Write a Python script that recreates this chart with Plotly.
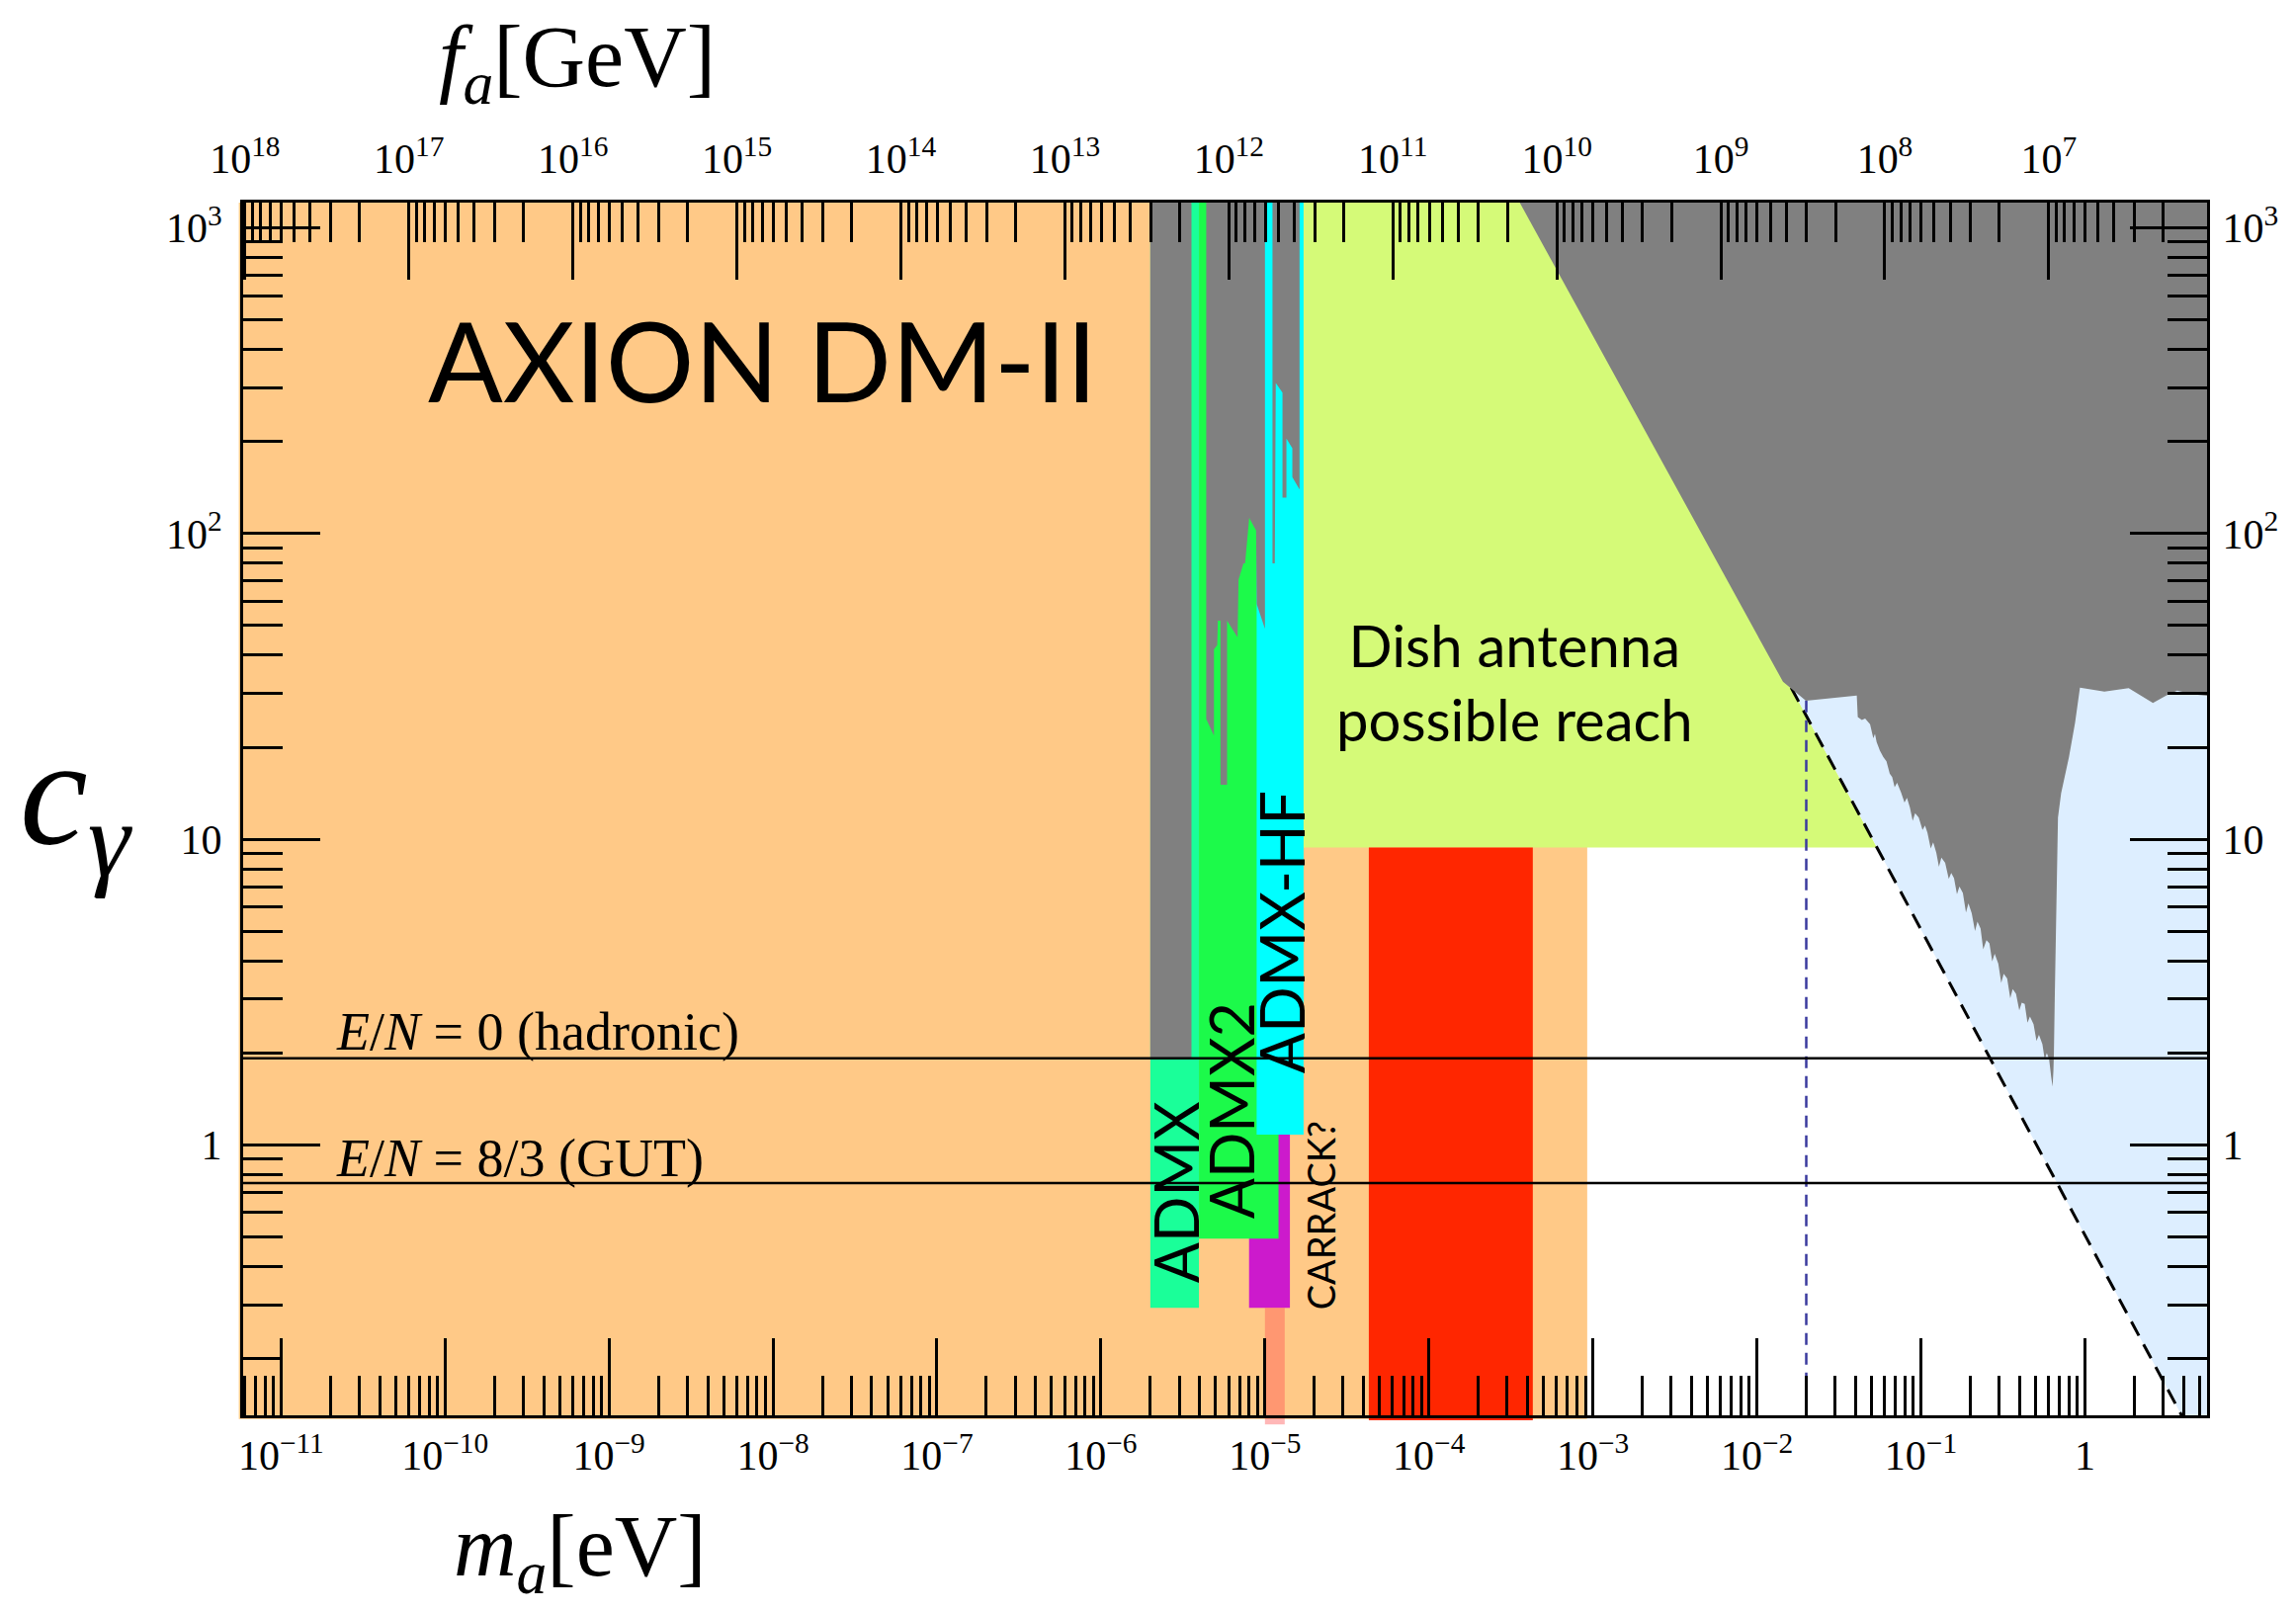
import math
import plotly.graph_objects as go

# ---------------- axis extents (log10 of m_a [eV] and of c_gamma) ----------------
LOG_M_MIN, LOG_M_MAX = -11.231, 0.745
LOG_C_MIN, LOG_C_MAX = -0.885, 3.083
LOG_FA_MA = 6.78            # log10(f_a * m_a / (GeV eV))
C_CEIL, C_FLOOR = 3000.0, 0.05

# ---------------- reference couplings ----------------
cgamma_hadronic = 1.92      # E/N = 0
cgamma_gut = 0.75           # E/N = 8/3

# ---------------- haloscope bands: mass interval [eV], lowest c_gamma ----------------
admx_m = [2.0e-6, 3.96e-6]
admx_c = 0.293
admx2_m = [3.96e-6, 1.21e-5]
admx2_c = 0.493
admxhf_m = [8.9e-6, 1.72e-5]
admxhf_c = 1.08
carrack_m = [8.0e-6, 1.42e-5]
carrack_c = [0.293, 1.08]
carrack_core_m = [1.0e-5, 1.32e-5]
carrack_core_c = 0.293
madmax_m = [4.3e-5, 4.3e-4]
madmax_c = 9.4
dm_band_m_max = 9.2e-4       # upper mass of the orange dark-matter band
dish_m_min = 1.72e-5
dish_c_min = 9.4
reach_const = 0.507          # c_gamma * m_a along the dashed reach line
reach_m = [3.2e-4, 4.6]
eband_m = 0.020              # blue dashed marker

# ---------------- haloscope exclusions (log10 m, log10 c) ----------------
admx_excl_logm = [-5.699, -5.448, -5.448, -5.699]
admx_excl_logc = [3.3, 3.3, 0.283, 0.283]

admx2_excl_logm = [-5.358, -5.358, -5.311, -5.311, -5.291, -5.287, -5.271, -5.271, -5.231,
                   -5.231, -5.167, -5.161, -5.131, -5.121, -5.096, -5.054, -5.050, -5.000, -5.000]
admx2_excl_logc = [3.3, 1.393, 1.339, 1.621, 1.635, 1.715, 1.715, 1.178, 1.178,
                   1.715, 1.661, 1.849, 1.903, 1.903, 2.051, 2.010, 1.769, 1.688, 3.3]

admxhf_excl_logm = [-4.954, -4.954, -4.940, -4.934, -4.893, -4.893, -4.869, -4.869,
                    -4.833, -4.833, -4.789, -4.789]
admxhf_excl_logc = [3.3, 1.903, 1.903, 2.493, 2.461, 2.118, 2.118, 2.311,
                    2.279, 2.185, 2.144, 3.3]

# ---------------- helioscope / telescope exclusion (log10 m, log10 c) ----------------
helio_logm = [-3.566, -1.841, -1.701, -1.391, -1.385, -1.36, -1.34, -1.31, -1.29, -1.28, -1.27,
              -1.25, -1.229, -1.21, -1.19, -1.175, -1.16, -1.145, -1.121, -1.10, -1.085, -1.067,
              -1.05, -1.035, -1.013, -0.99, -0.975, -0.960, -0.94, -0.925, -0.906, -0.89, -0.875,
              -0.852, -0.83, -0.815, -0.798, -0.78, -0.765, -0.744, -0.725, -0.71, -0.690, -0.67,
              -0.655, -0.636, -0.62, -0.60, -0.582, -0.565, -0.55, -0.528, -0.51, -0.495, -0.474,
              -0.455, -0.44, -0.420, -0.40, -0.385, -0.367, -0.35, -0.335, -0.313, -0.295, -0.28,
              -0.259, -0.245, -0.232, -0.218, -0.205, -0.197, -0.192, -0.189, -0.183, -0.178,
              -0.170, -0.164, -0.145, -0.124, -0.097, -0.06, -0.030, 0.119, 0.267, 0.415, 0.496,
              0.563, 0.658, 0.80, 0.80]
helio_logc = [3.2, 1.515, 1.453, 1.470, 1.400, 1.39, 1.395, 1.376, 1.33, 1.345, 1.318,
              1.29, 1.269, 1.255, 1.215, 1.203, 1.17, 1.185, 1.153, 1.12, 1.135, 1.104,
              1.06, 1.085, 1.071, 1.03, 1.045, 1.021, 0.97, 0.99, 0.956, 0.91, 0.94,
              0.923, 0.87, 0.89, 0.873, 0.82, 0.845, 0.824, 0.76, 0.79, 0.758, 0.70,
              0.73, 0.708, 0.64, 0.67, 0.659, 0.60, 0.625, 0.593, 0.53, 0.56, 0.544,
              0.48, 0.51, 0.494, 0.44, 0.465, 0.461, 0.40, 0.42, 0.395, 0.34, 0.36,
              0.329, 0.28, 0.30, 0.280, 0.22, 0.19, 0.24, 0.297, 0.50, 0.659,
              0.90, 1.071, 1.15, 1.203, 1.269, 1.38, 1.496, 1.483, 1.494, 1.446, 1.470,
              1.486, 1.474, 1.466, 3.2]

# ---------------- tick labels ----------------
m_tick_exp = list(range(-11, 1))
m_tick_text = ["10<sup>\u2212%d</sup>" % (-e) for e in m_tick_exp[:-1]] + ["1"]
fa_tick_exp = list(range(18, 6, -1))
fa_tick_text = ["10<sup>%d</sup>" % e for e in fa_tick_exp]
c_tick_exp = [0, 1, 2, 3]
c_tick_text = ["1", "10", "10<sup>2</sup>", "10<sup>3</sup>"]

# ---------------- colours ----------------
COL_ORANGE = "#FFC987"
COL_GRAY = "#808080"
COL_ADMX = "#1AFF99"
COL_ADMX2 = "#1CFA4A"
COL_ADMXHF = "#00FFFF"
COL_CARRACK = "#CC1ACC"
COL_CORE = "rgba(255,84,84,0.42)"
COL_MADMAX = "#FF2600"
COL_DISH = "#D5FA78"
COL_BLUE = "#DDEEFF"


def box(m_pair, c_lo, c_hi):
    x = [m_pair[0], m_pair[1], m_pair[1], m_pair[0], m_pair[0]]
    y = [c_lo, c_lo, c_hi, c_hi, c_lo]
    return x, y


def area(x, y, color):
    return go.Scatter(x=x, y=y, mode="lines", fill="toself", fillcolor=color,
                      line=dict(width=0), hoverinfo="skip", showlegend=False)


def from_log(vals):
    return [10 ** v for v in vals]


def paper_x(m):
    return (math.log10(m) - LOG_M_MIN) / (LOG_M_MAX - LOG_M_MIN)


fig = go.Figure()

# dark-matter band (orange)
fig.add_trace(area(*box([1e-13, dm_band_m_max], C_FLOOR, C_CEIL), COL_ORANGE))

# dish antenna reach (up to the reach line)
m_top = reach_const / C_CEIL
m_low = reach_const / dish_c_min
fig.add_trace(area([dish_m_min, dish_m_min, m_top, m_low, dish_m_min],
                   [dish_c_min, C_CEIL, C_CEIL, dish_c_min, dish_c_min], COL_DISH))

# light blue region beyond the reach line
c_blue_top = 40.0
fig.add_trace(area([reach_const / c_blue_top, reach_const / C_FLOOR, 10.0, 10.0, reach_const / c_blue_top],
                   [c_blue_top, C_FLOOR, C_FLOOR, c_blue_top, c_blue_top], COL_BLUE))

# dielectric haloscope (red)
fig.add_trace(area(*box(madmax_m, C_FLOOR, madmax_c), COL_MADMAX))

# CARRACK
fig.add_trace(area(*box(carrack_m, carrack_c[0], carrack_c[1]), COL_CARRACK))
fig.add_trace(area(*box(carrack_core_m, C_FLOOR, carrack_core_c), COL_CORE))

# ADMX, ADMX2, ADMX-HF
fig.add_trace(area(*box(admx_m, admx_c, C_CEIL), COL_ADMX))
fig.add_trace(area(*box(admx2_m, admx2_c, C_CEIL), COL_ADMX2))
fig.add_trace(area(*box(admxhf_m, admxhf_c, C_CEIL), COL_ADMXHF))

# existing haloscope exclusions
for lm, lc in [(admx_excl_logm, admx_excl_logc),
               (admx2_excl_logm, admx2_excl_logc),
               (admxhf_excl_logm, admxhf_excl_logc)]:
    fig.add_trace(area(from_log(lm), from_log(lc), COL_GRAY))

# reach line and blue marker
fig.add_trace(go.Scatter(x=reach_m, y=[reach_const / m for m in reach_m], mode="lines",
                         line=dict(color="black", width=3, dash="16px,10px"),
                         hoverinfo="skip", showlegend=False))
fig.add_trace(go.Scatter(x=[eband_m, eband_m], y=[C_FLOOR, C_CEIL], mode="lines",
                         line=dict(color="#3A3A9E", width=2.5, dash="12px,8px"),
                         hoverinfo="skip", showlegend=False))

# helioscope / telescope exclusion
fig.add_trace(area(from_log(helio_logm), from_log(helio_logc), COL_GRAY))

# E/N reference lines
for cg in [cgamma_hadronic, cgamma_gut]:
    fig.add_trace(go.Scatter(x=[1e-13, 10.0], y=[cg, cg], mode="lines",
                             line=dict(color="black", width=2.5),
                             hoverinfo="skip", showlegend=False))

# trace for the secondary (top / right) axes
fig.add_trace(go.Scatter(x=[1e10], y=[10.0], xaxis="x2", yaxis="y2", mode="markers",
                         marker=dict(opacity=0), hoverinfo="skip", showlegend=False))

SERIF = "Liberation Serif"
SANS = "Lato"
TICKFONT = dict(family=SERIF, size=42, color="black")


def minor_vals(lo_exp, hi_exp):
    return [k * 10.0 ** e for e in range(lo_exp, hi_exp + 1) for k in range(2, 10)]


axis_common = dict(type="log", ticks="inside", ticklen=78, tickwidth=3, tickcolor="black",
                   showline=True, linewidth=3, linecolor="black", showgrid=False,
                   zeroline=False, tickfont=TICKFONT, tickmode="array")
minor_common = dict(tickmode="array", ticks="inside", ticklen=40, tickwidth=3, tickcolor="black")

fig.update_layout(
    width=2323, height=1631,
    margin=dict(l=246, r=90, t=205, b=199),
    paper_bgcolor="white", plot_bgcolor="white",
    showlegend=False,
    xaxis=dict(axis_common, range=[LOG_M_MIN, LOG_M_MAX],
               tickvals=[10.0 ** e for e in m_tick_exp], ticktext=m_tick_text,
               minor=dict(minor_common, tickvals=minor_vals(-12, 0)),
               ticklabelstandoff=2),
    xaxis2=dict(axis_common, overlaying="x", side="top", anchor="y2",
                range=[LOG_FA_MA - LOG_M_MIN, LOG_FA_MA - LOG_M_MAX],
                tickvals=[10.0 ** e for e in fa_tick_exp], ticktext=fa_tick_text,
                minor=dict(minor_common, tickvals=minor_vals(6, 17)),
                ticklabelstandoff=10),
    yaxis=dict(axis_common, range=[LOG_C_MIN, LOG_C_MAX],
               tickvals=[10.0 ** e for e in c_tick_exp], ticktext=c_tick_text,
               minor=dict(minor_common, tickvals=minor_vals(-1, 3)),
               ticklabelstandoff=10),
    yaxis2=dict(axis_common, overlaying="y", side="right", anchor="x2",
                range=[LOG_C_MIN, LOG_C_MAX],
                tickvals=[10.0 ** e for e in c_tick_exp], ticktext=c_tick_text,
                minor=dict(minor_common, tickvals=minor_vals(-1, 3)),
                ticklabelstandoff=4),
)

# fills spilling a few pixels past the frame
fig.update_layout(shapes=[
    dict(type="rect", xref="paper", yref="paper", layer="below", line=dict(width=0),
         x0=-0.0022, x1=paper_x(dm_band_m_max), y0=-0.003, y1=1.0, fillcolor=COL_ORANGE),
    dict(type="rect", xref="paper", yref="paper", layer="below", line=dict(width=0),
         x0=paper_x(carrack_core_m[0]), x1=paper_x(carrack_core_m[1]), y0=-0.0075, y1=0.0,
         fillcolor=COL_CORE),
    dict(type="rect", xref="paper", yref="paper", layer="below", line=dict(width=0),
         x0=paper_x(madmax_m[0]), x1=paper_x(madmax_m[1]), y0=-0.004, y1=0.0,
         fillcolor=COL_MADMAX),
])

annotations = [
    dict(x=-8.061, y=2.572, xref="x", yref="y", text="AXION DM-II", showarrow=False,
         font=dict(family=SANS, size=112, color="black")),
    dict(x=-3.479, y=1.516, xref="x", yref="y", text="Dish antenna<br>possible reach",
         showarrow=False, font=dict(family=SANS, size=58, color="black")),
    dict(x=-5.543, y=-0.156, xref="x", yref="y", text="ADMX", textangle=-90, showarrow=False,
         font=dict(family=SANS, size=61, color="black")),
    dict(x=-5.206, y=0.112, xref="x", yref="y", text="ADMX2", textangle=-90, showarrow=False,
         font=dict(family=SANS, size=61, color="black")),
    dict(x=-4.898, y=0.695, xref="x", yref="y", text="ADMX-HF", textangle=-90, showarrow=False,
         font=dict(family=SANS, size=61, color="black")),
    dict(x=-4.664, y=-0.231, xref="x", yref="y", text="CARRACK?", textangle=-90,
         showarrow=False, font=dict(family=SANS, size=38, color="black")),
    dict(x=-10.677, y=0.370, xref="x", yref="y", xanchor="left",
         text="<i>E</i>/<i>N</i> = 0 (hadronic)", showarrow=False,
         font=dict(family=SERIF, size=54, color="black")),
    dict(x=-10.677, y=-0.045, xref="x", yref="y", xanchor="left",
         text="<i>E</i>/<i>N</i> = 8/3 (GUT)", showarrow=False,
         font=dict(family=SERIF, size=54, color="black")),
    dict(x=0.1700, y=1.115, xref="paper", yref="paper", xanchor="center", yanchor="middle",
         text="<i>f</i><sub><i>a</i></sub>[GeV]",
         showarrow=False, font=dict(family=SERIF, size=88, color="black")),
    dict(x=0.1716, y=-0.1130, xref="paper", yref="paper", xanchor="center", yanchor="middle",
         text="<i>m</i><sub><i>a</i></sub>[eV]",
         showarrow=False, font=dict(family=SERIF, size=88, color="black")),
    dict(x=-0.085, y=0.505, xref="paper", yref="paper", xanchor="center", yanchor="middle",
         text="<i>c</i><sub><i>γ</i></sub>",
         showarrow=False, font=dict(family=SERIF, size=155, color="black")),
]
fig.update_layout(annotations=annotations)

fig.write_html("out.html")
